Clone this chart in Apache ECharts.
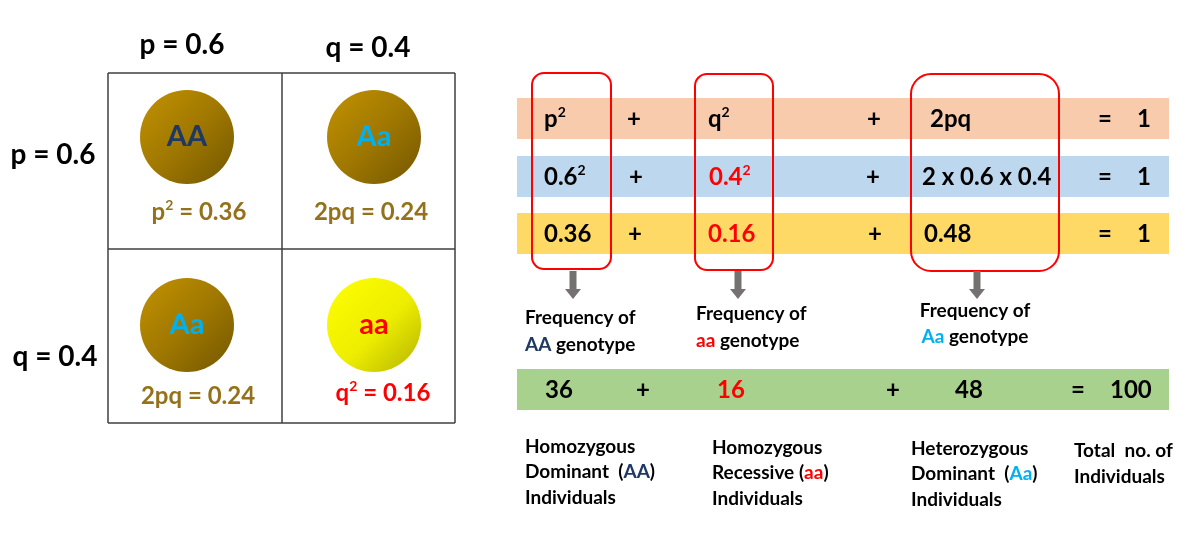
<!DOCTYPE html>
<html>
<head>
<meta charset="utf-8">
<title>Hardy-Weinberg</title>
<style>
  html, body { margin: 0; height: 100%; background: #fff; }
  #main { width: 1184px; height: 544px; }
</style>
</head>
<body>
<div id="main"></div>
<script src="https://cdn.jsdelivr.net/npm/echarts@6/dist/echarts.min.js"></script>
<script>
// allele frequencies (column header / row header)
var alleleLabels = ['p = 0.6', 'q = 0.4'];
// punnett square cells, row by row
var genotypes = ['AA', 'Aa', 'Aa', 'aa'];
var cellFormulas = ['p² = 0.36', '2pq = 0.24', '2pq = 0.24', 'q² = 0.16'];
// equation rows
var termRow = ['p²', 'q²', '2pq'];
var squareRow = ['0.6²', '0.4²', '2 x 0.6 x 0.4'];
var freqRow = ['0.36', '0.16', '0.48'];
var rowTotal = '1';
var countRow = ['36', '16', '48'];
var countTotal = '100';
var freqNotes = ['Frequency of\nAA genotype', 'Frequency of\naa genotype', 'Frequency of\nAa genotype'];
var groupNotes = ['Homozygous\nDominant  (AA)\nIndividuals', 'Homozygous\nRecessive (aa)\nIndividuals',
  'Heterozygous\nDominant  (Aa)\nIndividuals', 'Total  no. of\nIndividuals'];

// ---- layout (pixels of the 1184x544 canvas) ----
var FONT = 'Lato, "Open Sans", sans-serif';
var GOLD = '#94711a', RED = '#ff0000', INK = '#000000';
var genoColor = { AA: '#1f3864', Aa: '#00b0f0', aa: '#ff0000' };

var cellCx = [187, 374], cellCy = [137, 325];
var formulaPos = [[199, 212], [371, 212], [198, 396], [383, 393]];
var gridX = [108, 282, 455], gridY = [73, 249, 423];
var bandY = [[98, 139], [156, 197], [213, 254], [369, 410]];
var bandColor = ['#f8cbad', '#bdd7ee', '#ffd966', '#a9d18e'];
var rowY = [119, 177, 234];
var termX = [[544, 708, 930], [544, 709, 922], [544, 708, 924]];
var plusX = [[634, 874], [636, 873], [635, 875]];
var boxes = [[532, 73, 611, 269, 12], [695, 74, 773, 270, 12], [911, 74, 1059, 271, 20]];
var arrowX = [573, 738, 977];

var texts = [];
function addText(x, y, str, size, color, align, lh) {
  texts.push({ x: x, y: y, str: str, size: size, color: color, align: align || 'left', lh: lh || Math.round(size * 1.15) });
}
function markup(s) {
  return s.replace(/²/g, '{s|2}').replace(/\b(AA|Aa|aa)\b/g, '{$1|$1}');
}
function richFor(size, color, lh) {
  var r = {
    s: { fontFamily: FONT, fontWeight: 'bold', fontSize: Math.round(size * 0.6), fill: color,
      verticalAlign: 'top', lineHeight: Math.round(size * 0.7) }
  };
  Object.keys(genoColor).forEach(function (k) {
    r[k] = { fontFamily: FONT, fontWeight: 'bold', fontSize: size, fill: genoColor[k], lineHeight: lh };
  });
  return r;
}

// headers
addText(182, 45, alleleLabels[0], 28, INK, 'center');
addText(368, 48, alleleLabels[1], 28, INK, 'center');
addText(53, 155, alleleLabels[0], 28, INK, 'center');
addText(55, 357, alleleLabels[1], 28, INK, 'center');
// cell formulas
cellFormulas.forEach(function (f, i) {
  addText(formulaPos[i][0], formulaPos[i][1], f, 24, i === 3 ? RED : GOLD, 'center');
});
// equation rows
[termRow, squareRow, freqRow].forEach(function (row, r) {
  row.forEach(function (t, c) {
    addText(termX[r][c], rowY[r], t, 24, (c === 1 && r > 0) ? RED : INK);
  });
  addText(plusX[r][0], rowY[r], '+', 24, INK, 'center');
  addText(plusX[r][1], rowY[r], '+', 24, INK, 'center');
  addText(1105, rowY[r], '=', 24, INK, 'center');
  addText(1137, rowY[r], rowTotal, 24, INK);
});
// counts row
var countX = [545, 717, 955];
countRow.forEach(function (t, c) {
  addText(countX[c], 390, t, 24, c === 1 ? RED : INK);
});
addText(643, 390, '+', 24, INK, 'center');
addText(893, 390, '+', 24, INK, 'center');
addText(1078, 390, '=', 24, INK, 'center');
addText(1110, 390, countTotal, 24, INK);
// notes
addText(525, 331, freqNotes[0], 19, INK, 'left', 27);
addText(696, 327, freqNotes[1], 19, INK, 'left', 27);
addText(975, 324, freqNotes[2], 19, INK, 'center', 26);
addText(525, 472, groupNotes[0], 19, INK, 'left', 25.5);
addText(712, 473, groupNotes[1], 19, INK, 'left', 25.5);
addText(911, 474, groupNotes[2], 19, INK, 'left', 25.5);
addText(1074, 464, groupNotes[3], 19, INK, 'left', 25.5);

// punnett square lines
var segments = [];
gridY.forEach(function (y) { segments.push([gridX[0], y, gridX[2], y]); });
gridX.forEach(function (x) { segments.push([x, gridY[0], x, gridY[2]]); });

var circleData = genotypes.map(function (g, i) {
  var dark = g !== 'aa';
  return {
    value: [cellCx[i % 2], cellCy[Math.floor(i / 2)]],
    itemStyle: {
      opacity: 1,
      color: new echarts.graphic.LinearGradient(0, 0, 1, 1, dark
        ? [{ offset: 0, color: '#c29200' }, { offset: 0.5, color: '#a07800' }, { offset: 1, color: '#735700' }]
        : [{ offset: 0, color: '#ffff00' }, { offset: 0.55, color: '#eded00' }, { offset: 1, color: '#b3b300' }])
    },
    label: {
      show: true, position: 'inside', formatter: g,
      fontFamily: FONT, fontWeight: 'bold', fontSize: 29,
      color: genoColor[g], textBorderWidth: 0
    }
  };
});

var chart = echarts.init(document.getElementById('main'));
chart.setOption({
  animation: false,
  grid: { left: 0, right: 0, top: 0, bottom: 0 },
  xAxis: { type: 'value', min: 0, max: 1184, show: false },
  yAxis: { type: 'value', min: 0, max: 544, inverse: true, show: false },
  series: [
    {
      type: 'custom', name: 'bands', clip: false,
      data: bandY.map(function (b) { return [517, b[0], 1169, b[1]]; }),
      encode: { x: [0, 2], y: [1, 3] },
      renderItem: function (params, api) {
        var p0 = api.coord([api.value(0), api.value(1)]);
        var p1 = api.coord([api.value(2), api.value(3)]);
        return { type: 'rect', shape: { x: p0[0], y: p0[1], width: p1[0] - p0[0], height: p1[1] - p0[1] },
          style: { fill: bandColor[params.dataIndex] } };
      }
    },
    {
      type: 'custom', name: 'grid', clip: false,
      data: segments,
      encode: { x: [0, 2], y: [1, 3] },
      renderItem: function (params, api) {
        var p0 = api.coord([api.value(0), api.value(1)]);
        var p1 = api.coord([api.value(2), api.value(3)]);
        return { type: 'line', shape: { x1: p0[0], y1: p0[1], x2: p1[0], y2: p1[1] },
          style: { stroke: '#3f3f3f', lineWidth: 1.5 } };
      }
    },
    {
      type: 'scatter', name: 'genotypes',
      symbol: 'circle', symbolSize: 94,
      data: circleData,
      emphasis: { disabled: true }
    },
    {
      type: 'custom', name: 'boxes', clip: false,
      data: boxes,
      encode: { x: [0, 2], y: [1, 3] },
      renderItem: function (params, api) {
        var p0 = api.coord([api.value(0), api.value(1)]);
        var p1 = api.coord([api.value(2), api.value(3)]);
        return { type: 'rect', shape: { x: p0[0], y: p0[1], width: p1[0] - p0[0], height: p1[1] - p0[1], r: api.value(4) },
          style: { fill: 'none', stroke: '#ff0000', lineWidth: 2 } };
      }
    },
    {
      type: 'custom', name: 'arrows', clip: false,
      data: arrowX.map(function (x) { return [x, 271, 299]; }),
      encode: { x: 0, y: [1, 2] },
      renderItem: function (params, api) {
        var top = api.coord([api.value(0), api.value(1)]);
        var tip = api.coord([api.value(0), api.value(2)]);
        var headTop = tip[1] - 10;
        return {
          type: 'group', children: [
            { type: 'rect', shape: { x: top[0] - 3.5, y: top[1], width: 7, height: headTop - top[1] },
              style: { fill: '#767171' } },
            { type: 'polygon', shape: { points: [[top[0] - 8, headTop], [top[0] + 8, headTop], [tip[0], tip[1]]] },
              style: { fill: '#767171' } }
          ]
        };
      }
    },
    {
      type: 'custom', name: 'texts', clip: false,
      data: texts.map(function (t) { return [t.x, t.y]; }),
      renderItem: function (params, api) {
        var t = texts[params.dataIndex];
        var p = api.coord([api.value(0), api.value(1)]);
        return {
          type: 'text', x: p[0], y: p[1],
          style: {
            text: markup(t.str),
            fontFamily: FONT, fontWeight: 'bold', fontSize: t.size,
            fill: t.color, align: t.align, verticalAlign: 'middle',
            lineHeight: t.lh,
            rich: richFor(t.size, t.color, t.lh)
          }
        };
      }
    }
  ]
});
</script>
</body>
</html>
